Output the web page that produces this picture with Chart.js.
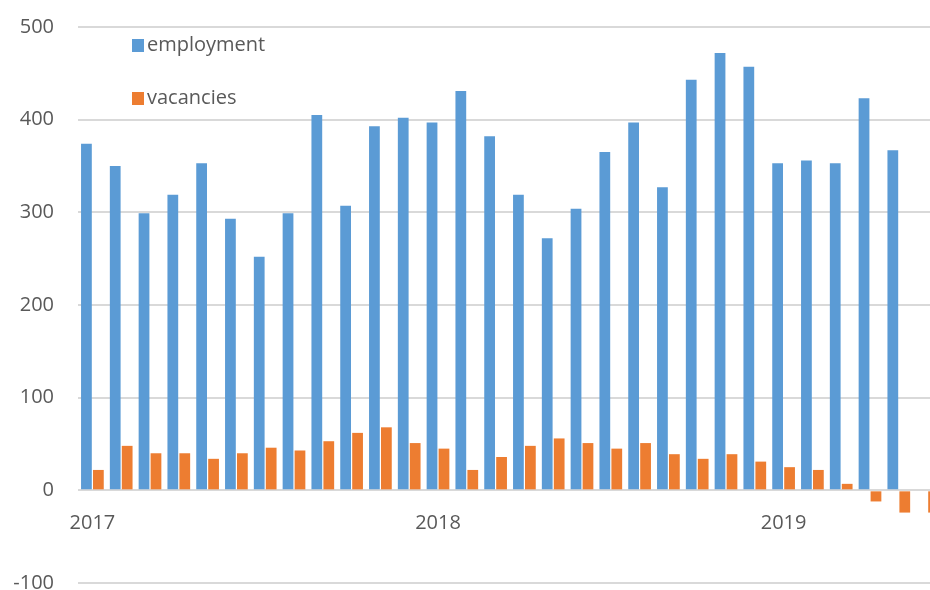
<!DOCTYPE html>
<html>
<head>
<meta charset="utf-8">
<script src="https://cdn.jsdelivr.net/npm/chart.js@4/dist/chart.umd.min.js"></script>
<style>
  html, body { margin: 0; padding: 0; background: #fff; overflow: hidden; }
</style>
</head>
<body>
<canvas id="chart" width="950" height="600"></canvas>
<script>
const years = ['2017', '2018', '2019']
const monthNames = ['Jan', 'Feb', 'Mar', 'Apr', 'May', 'Jun', 'Jul', 'Aug', 'Sep', 'Oct', 'Nov', 'Dec']

// Jan 2017 .. Jun 2019
const months = []
for (const y of years) {
    for (const m of monthNames) {
        if (months.length < 30) months.push(m + ' ' + y)
    }
}

const employment = [374, 350, 299, 319, 353, 293, 252, 299, 405, 307, 393, 402,
                    397, 431, 382, 319, 272, 304, 365, 397, 327, 443, 472, 457,
                    353, 356, 353, 423, 367, null]
const vacancies = [22, 48, 40, 40, 34, 40, 46, 43, 53, 62, 68, 51,
                   45, 22, 36, 48, 56, 51, 45, 51, 39, 34, 39, 31,
                   25, 22, 7, -12, -24, -24]

const yTicks = [-100, 0, 100, 200, 300, 400, 500]

const textColor = '#595959'
Chart.defaults.font.family = "'Open Sans'"
Chart.defaults.font.size = 20
Chart.defaults.color = textColor

// legend stacked in the top-left corner of the plot
const legendBlock = {
    id: 'legendBlock',
    afterDraw(chart) {
        const { ctx, chartArea } = chart
        ctx.save()
        ctx.font = "20px 'Open Sans'"
        ctx.textBaseline = 'middle'
        chart.data.datasets.forEach((ds, i) => {
            const x = chartArea.left + 54
            const y = chartArea.top + 18 + i * 53
            ctx.fillStyle = ds.backgroundColor
            ctx.fillRect(x, y - 6, 12, 13)
            ctx.fillStyle = textColor
            ctx.fillText(ds.label, x + 15, y)
        })
        ctx.restore()
    }
}

const config = {
    type: 'bar',
    data: {
        labels: months,
        datasets: [
            {
                label: 'employment',
                data: employment,
                backgroundColor: '#5b9bd5',
                categoryPercentage: 0.83,
                barPercentage: 0.9
            },
            {
                label: 'vacancies',
                data: vacancies,
                backgroundColor: '#ed7d31',
                categoryPercentage: 0.83,
                barPercentage: 0.9
            }
        ]
    },
    plugins: [legendBlock],
    options: {
        responsive: false,
        animation: false,
        layout: {
            padding: { top: 27, right: 8, bottom: 17, left: 0 }
        },
        plugins: {
            legend: { display: false },
            tooltip: { enabled: false }
        },
        scales: {
            x: {
                position: { y: 0 },
                grid: { display: false },
                border: { display: false },
                ticks: {
                    autoSkip: false,
                    maxRotation: 0,
                    padding: 13,
                    callback: function(value, index) {
                        const [m, y] = months[index].split(' ')
                        return m === 'Jan' && years.includes(y) ? y : ''
                    }
                },
                afterFit: function(scale) { scale.height = 0 }
            },
            y: {
                min: yTicks[0],
                max: yTicks[yTicks.length - 1],
                border: { display: false },
                grid: {
                    color: '#d9d9d9',
                    lineWidth: 2,
                    drawTicks: false
                },
                ticks: {
                    stepSize: 100,
                    padding: 24
                },
                afterFit: function(scale) {
                    // tick padding is horizontal here, keep it out of the vertical margins
                    scale.width = 78
                    scale.paddingTop = 0
                    scale.paddingBottom = 0
                }
            }
        }
    }
}

const chart = new Chart(document.getElementById('chart'), config)
</script>
</body>
</html>
